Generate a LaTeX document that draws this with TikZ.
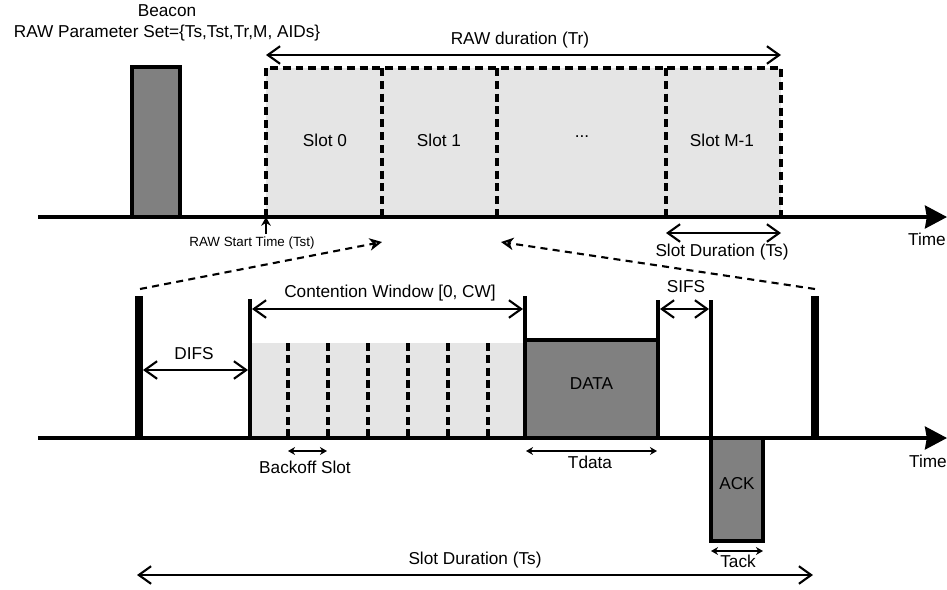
\documentclass[tikz,border=0pt]{standalone}
\usepackage{fontspec}
\setmainfont{Liberation Sans}
\usetikzlibrary{arrows.meta, positioning, fit}

\begin{document}
\begin{tikzpicture}[x=0.02cm, y=-0.02cm, font=\fontsize{9.8}{12}\selectfont,
      axis/.style={line width=2pt, -{Stealth[length=12.5pt,width=13pt,inset=1pt]}},
      dim/.style={line width=1.2pt, {Straight Barb[length=7pt,width=10pt]}-{Straight Barb[length=7pt,width=10pt]}},
      shortdim/.style={line width=1.2pt, {Stealth[length=4pt,width=4.5pt]}-{Stealth[length=4pt,width=4.5pt]}},
      pkt/.style={draw, line width=2.2pt, fill=black!50, inner sep=0pt},
      bar/.style={fill=black, inner sep=0pt},
      area/.style={fill=black!10, inner sep=0pt},
      wall/.style={line width=2pt},
      rawline/.style={line width=2.4pt, dash pattern=on 4.5pt off 2.8pt},
      bkline/.style={line width=2.2pt, dash pattern=on 4.5pt off 2.5pt},
      zoomline/.style={line width=1.2pt, dash pattern=on 4pt off 3pt, -{Stealth[open,length=7pt,width=7pt,inset=2pt]}}]
  \useasboundingbox (0,0) rectangle (947,589);

  % upper time line: beacon and RAW slots
  \node[area, fit={(266,68) (781,217)}] (raw) {};
  \node[pkt, fit={(132,67) (180,217)}] (beacon) {};
  \node[align=center] (params) at (167,23) {Beacon\\RAW Parameter Set=\{Ts,Tst,Tr,M, AIDs\}};
  \coordinate (up0) at (38,217);
  \coordinate (up1) at (947,217);
  \draw[axis] (up0) -- (up1);
  \node (time1) at (927,239) {Time};
  \draw[rawline] (raw.south west) -- (raw.north west) -- (raw.north east) -- (raw.south east);
  \foreach \x in {382,497,666}
    \draw[rawline] (\x,68) -- (\x,217);
  \node (slot0) at (325,140) {Slot 0};
  \node (slot1) at (439,140) {Slot 1};
  \node (slotdots) at (582,137) {...};
  \node (slotm) at (722,140) {Slot M-1};

  \coordinate (trl) at (266,55);
  \coordinate (trr) at (781,55);
  \draw[dim] (trl) -- (trr);
  \node (trlbl) at (520,40) {RAW duration (Tr)};

  \coordinate (tst) at (266,217);
  \coordinate (tstfoot) at (266,234);
  \draw[line width=1.2pt, -{Stealth[length=5pt,width=5.5pt]}] (tstfoot) -- (tst);
  \node[font=\fontsize{7.6}{9}\selectfont] (tstlbl) at (252,243) {RAW Start Time (Tst)};

  \coordinate (tsl) at (666,233);
  \coordinate (tsr) at (781,233);
  \draw[dim] (tsl) -- (tsr);
  \node (tslbl) at (722,252) {Slot Duration (Ts)};

  % lower time line: one slot in detail
  \node[area, fit={(251,343) (525,438)}] (cw) {};
  \node[pkt, fit={(525,340) (658,438)}] (data) {DATA};
  \node[pkt, fit={(711,438) (763,541)}] (ack) {ACK};
  \node[bar, fit={(135,296) (143,438)}] (barl) {};
  \node[bar, fit={(811,296) (819,438)}] (barr) {};
  \foreach \x in {288,328,368,408,448,488}
    \draw[bkline] (\x,343) -- (\x,438);
  \coordinate (lo0) at (38,438);
  \coordinate (lo1) at (947,438);
  \draw[axis] (lo0) -- (lo1);
  \node (time2) at (928,461) {Time};
  \draw[wall] (250,299) -- (250,438);
  \draw[wall] (525,296) -- (525,438);
  \draw[wall] (658,300) -- (658,438);
  \draw[wall] (711,300) -- (711,438);

  \coordinate (zl) at (140,289);
  \coordinate (zlend) at (382,242);
  \coordinate (zr) at (815,289);
  \coordinate (zrend) at (501,242);
  \draw[zoomline] (zl) -- (zlend);
  \draw[zoomline] (zr) -- (zrend);

  \draw[dim] (143,370) -- (248,370);
  \node (difs) at (194,354) {DIFS};
  \draw[dim] (252,309) -- (523,309);
  \node (cwlbl) at (390,293) {Contention Window [0, CW]};
  \draw[dim] (660,309) -- (709,309);
  \node (sifs) at (686,287) {SIFS};
  \draw[shortdim] (288,451) -- (327,451);
  \node (bkslot) at (305,467) {Backoff Slot};
  \draw[shortdim] (526,451) -- (657,451);
  \node (tdata) at (590,462) {Tdata};
  \draw[shortdim] (711,551) -- (763,551);
  \node (tack) at (738,561) {Tack};
  \draw[dim] (137,575) -- (813,575);
  \node (tslot) at (475,560) {Slot Duration (Ts)};
\end{tikzpicture}
\end{document}
